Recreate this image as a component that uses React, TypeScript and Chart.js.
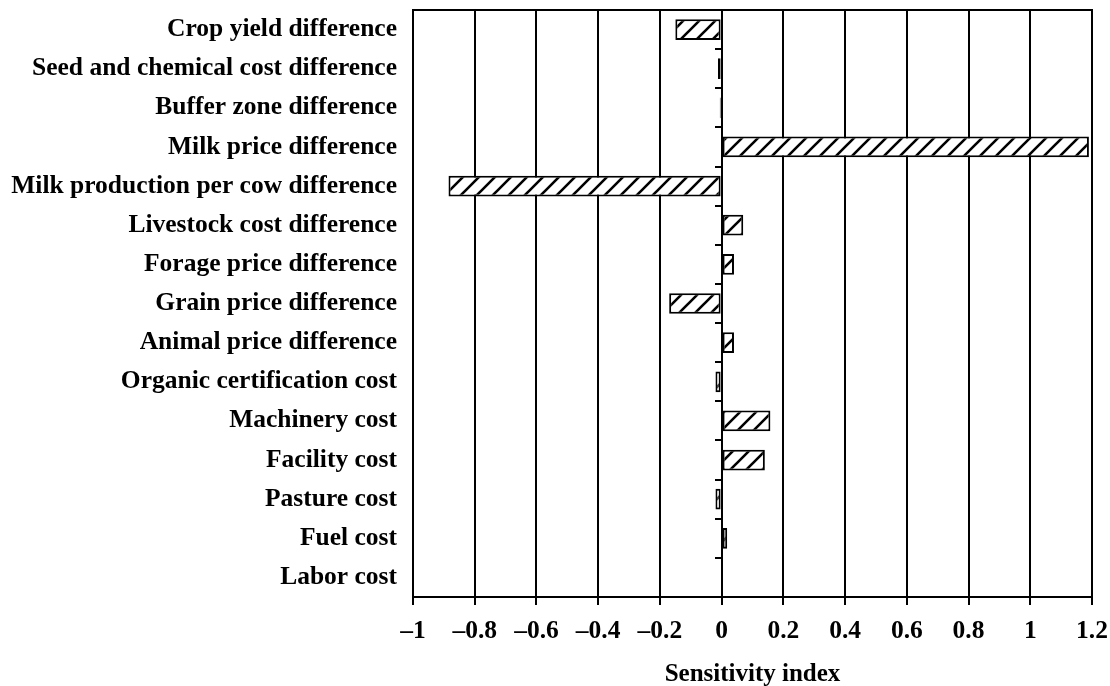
import React, { useEffect, useRef } from "react";
import { Chart, registerables } from "chart.js";

Chart.register(...registerables);

const categories = [
  "Crop yield difference",
  "Seed and chemical cost difference",
  "Buffer zone difference",
  "Milk price difference",
  "Milk production per cow difference",
  "Livestock cost difference",
  "Forage price difference",
  "Grain price difference",
  "Animal price difference",
  "Organic certification cost",
  "Machinery cost",
  "Facility cost",
  "Pasture cost",
  "Fuel cost",
  "Labor cost",
];

const sensitivity = [
  -0.15, -0.012, -0.006, 1.19, -0.885, 0.07, 0.04, -0.17, 0.04, -0.02, 0.158,
  0.14, -0.02, 0.018, 0,
];

const xMin = -1;
const xMax = 1.2;
const xStep = 0.2;
const xTitle = "Sensitivity index";

const FONT = "'Liberation Serif', 'Times New Roman', serif";

function makeHatch(): CanvasPattern | string {
  const size = 16;
  const c = document.createElement("canvas");
  c.width = size;
  c.height = size;
  const g = c.getContext("2d");
  if (!g) return "#fff";
  g.fillStyle = "#fff";
  g.fillRect(0, 0, size, size);
  g.strokeStyle = "#000";
  g.lineWidth = 2.6;
  g.beginPath();
  g.moveTo(-2, size + 2);
  g.lineTo(size + 2, -2);
  g.moveTo(-2, 2);
  g.lineTo(2, -2);
  g.moveTo(size - 2, size + 2);
  g.lineTo(size + 2, size - 2);
  g.stroke();
  const p = g.createPattern(c, "repeat");
  return p || "#fff";
}

const axisDecor = {
  id: "axisDecor",
  afterDatasetsDraw(chart: any) {
    const { ctx, chartArea, scales } = chart;
    const x = scales.x;
    const y = scales.y;
    const x0 = Math.round(x.getPixelForValue(0));
    ctx.save();
    ctx.strokeStyle = "#000";
    ctx.lineWidth = 2;
    ctx.beginPath();
    ctx.moveTo(x0, chartArea.top);
    ctx.lineTo(x0, chartArea.bottom);
    for (let i = 0; i < categories.length - 1; i++) {
      const yb = Math.round(
        (y.getPixelForValue(i) + y.getPixelForValue(i + 1)) / 2
      );
      ctx.moveTo(x0 - 7, yb);
      ctx.lineTo(x0, yb);
    }
    ctx.moveTo(chartArea.left - 1, chartArea.top);
    ctx.lineTo(chartArea.right + 1, chartArea.top);
    ctx.stroke();
    ctx.restore();
  },
};

export default function App() {
  const ref = useRef<HTMLCanvasElement | null>(null);
  useEffect(() => {
    if (!ref.current) return;
    const hatch = makeHatch();
    const chart = new Chart(ref.current, {
      type: "bar",
      data: {
        labels: categories,
        datasets: [
          {
            data: sensitivity,
            backgroundColor: hatch as any,
            borderColor: "#000",
            borderWidth: 2,
            borderSkipped: false,
            categoryPercentage: 1,
            barPercentage: 0.53,
          },
        ],
      },
      options: {
        indexAxis: "y",
        responsive: false,
        animation: false,
        layout: { padding: { top: 10, right: 18, left: 0, bottom: 0 } },
        plugins: {
          legend: { display: false },
          tooltip: { enabled: false },
        },
        scales: {
          x: {
            type: "linear",
            min: xMin,
            max: xMax,
            ticks: {
              stepSize: xStep,
              color: "#000",
              padding: 11,
              maxRotation: 0,
              font: { family: FONT, size: 25.5, weight: "bold" },
              callback: (v: any) => {
                const n = Math.round(Number(v) * 10) / 10;
                return n < 0 ? "\u2013" + String(Math.abs(n)) : String(n);
              },
            },
            grid: {
              color: "#000",
              lineWidth: 2,
              drawTicks: true,
              tickLength: 8,
              tickColor: "#000",
              tickWidth: 2,
            },
            border: { display: true, color: "#000", width: 2 },
            title: {
              display: true,
              text: xTitle,
              color: "#000",
              padding: { top: 0, bottom: -1 },
              font: { family: FONT, size: 25, weight: "bold", lineHeight: 1 },
            },
            afterFit: (s: any) => {
              s.height = 89;
              s.paddingLeft = 0;
              s.paddingRight = 0;
            },
          },
          y: {
            type: "category",
            ticks: {
              color: "#000",
              padding: 16,
              autoSkip: false,
              font: { family: FONT, size: 25.5, weight: "bold" },
            },
            grid: { display: false, drawTicks: false },
            border: { display: false },
            afterFit: (s: any) => {
              s.width = 413;
              s.paddingTop = 0;
              s.paddingBottom = 0;
            },
          },
        },
      },
      plugins: [axisDecor],
    });
    return () => chart.destroy();
  }, []);
  return (
    <div
      style={{
        position: "fixed",
        left: 0,
        top: 0,
        width: 1110,
        height: 686,
        background: "#fff",
      }}
    >
      <canvas ref={ref} width={1110} height={686} />
    </div>
  );
}
